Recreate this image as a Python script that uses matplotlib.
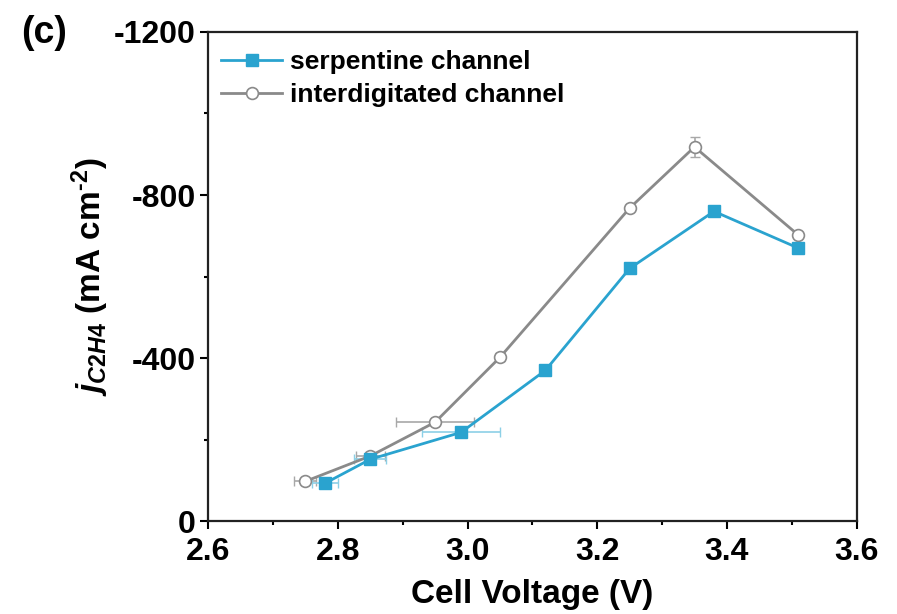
import matplotlib
matplotlib.use("Agg")
import matplotlib.pyplot as plt
from matplotlib.ticker import MultipleLocator

plt.rcParams["font.family"] = ["Liberation Sans", "DejaVu Sans"]
plt.rcParams["font.weight"] = "bold"
plt.rcParams["mathtext.fontset"] = "custom"
plt.rcParams["mathtext.rm"] = "Liberation Sans:bold"
plt.rcParams["mathtext.it"] = "Liberation Sans:bold:italic"
plt.rcParams["mathtext.bf"] = "Liberation Sans:bold"

# serpentine channel
serp_v = [2.78, 2.85, 2.99, 3.12, 3.25, 3.38, 3.51]
serp_j = [-93, -152, -218, -370, -620, -760, -670]
serp_xerr = [0.02, 0.025, 0.06, 0, 0, 0, 0]
serp_yerr = [0, 0, 0, 0, 0, 0, 0]

# interdigitated channel
inter_v = [2.75, 2.85, 2.95, 3.05, 3.25, 3.35, 3.51]
inter_j = [-98, -160, -243, -402, -768, -918, -702]
inter_xerr = [0.017, 0.022, 0.06, 0, 0, 0, 0]
inter_yerr = [0, 10, 0, 10, 0, 25, 0]

blue = "#2aa3cf"
gray = "#8a8a8a"

fig = plt.figure(figsize=(8.97, 6.14), dpi=100)
ax = fig.add_axes([0.232, 0.151, 0.723, 0.797])

ax.errorbar(inter_v, inter_j, xerr=inter_xerr, yerr=inter_yerr, fmt="none",
            ecolor="#a8a8a8", elinewidth=1.2, capsize=3.5, zorder=2)
ax.errorbar(serp_v, serp_j, xerr=serp_xerr, yerr=serp_yerr, fmt="none",
            ecolor="#8cd0e6", elinewidth=1.2, capsize=3.5, zorder=2)

ax.plot(serp_v, serp_j, color=blue, lw=2, marker="s", ms=8,
        mfc=blue, mec=blue, label="serpentine channel", zorder=4)
ax.plot(inter_v, inter_j, color=gray, lw=2, marker="o", ms=8.5,
        mfc="white", mec=gray, mew=1.2, label="interdigitated channel", zorder=3)

ax.set_xlim(2.6, 3.6)
ax.set_ylim(0, -1200)
ax.xaxis.set_major_locator(MultipleLocator(0.2))
ax.xaxis.set_minor_locator(MultipleLocator(0.1))
ax.yaxis.set_major_locator(MultipleLocator(400))
ax.yaxis.set_minor_locator(MultipleLocator(200))
ax.xaxis.set_major_formatter(plt.FuncFormatter(lambda v, p: f"{v:.1f}"))
ax.yaxis.set_major_formatter(plt.FuncFormatter(lambda v, p: f"{int(v)}"))

for s in ax.spines.values():
    s.set_linewidth(1.6)
    s.set_color("#222222")
ax.tick_params(which="major", direction="out", length=6, width=1.5,
               labelsize=23)
ax.tick_params(axis="x", which="major", pad=5)
ax.tick_params(axis="y", which="major", pad=3)
ax.tick_params(which="minor", direction="out", length=3, width=1.5)

ax.set_xlabel("Cell Voltage (V)", fontsize=24, fontweight="bold", labelpad=9)
ax.set_ylabel("$\\mathit{j}_{\\mathit{C2H4}}$ (mA cm$^{\u20102}$)", fontsize=24,
              fontweight="bold", labelpad=2)

ax.legend(loc="upper left", bbox_to_anchor=(-0.008, 1.0), frameon=False,
          fontsize=19, handlelength=2.3, handletextpad=0.3,
          labelspacing=0.33, borderaxespad=0.3)

fig.text(0.024, 0.93, "(c)", fontsize=27, fontweight="bold")

fig.savefig("out.png", dpi=100)
